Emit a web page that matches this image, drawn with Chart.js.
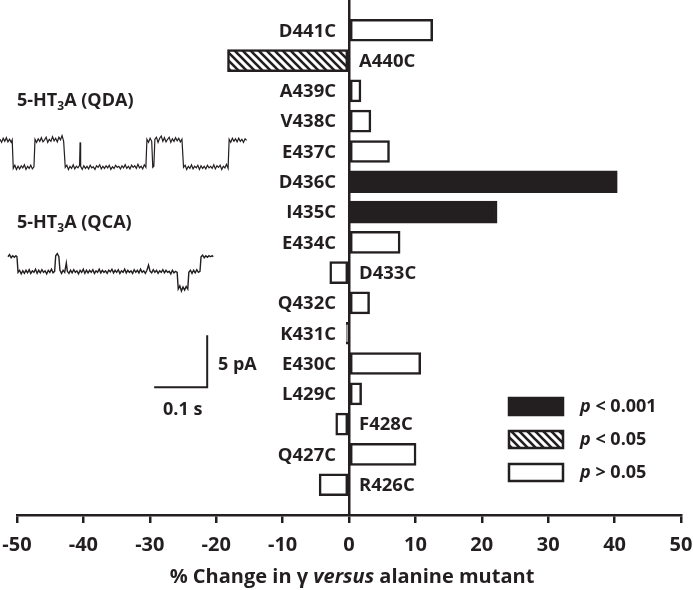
<!DOCTYPE html>
<html>
<head>
<meta charset="utf-8">
<script src="https://cdn.jsdelivr.net/npm/chart.js@4"></script>
<style>
  html, body { margin: 0; padding: 0; background: #fff; }
  #wrap { position: relative; width: 693px; height: 590px; font-family: "Open Sans", Lato, sans-serif; color: #231f20; }
  #main { position: absolute; left: 0; top: 0; }
  #traceBox { position: absolute; left: 0; top: 80px; width: 270px; height: 340px; }
  .lbl { position: absolute; font-weight: 700; font-size: 18px; line-height: 22px; white-space: nowrap; }
  .lbl sub { font-size: 12px; vertical-align: -4px; line-height: 0; }
</style>
</head>
<body>
<div id="wrap">
  <canvas id="main" width="693" height="590"></canvas>
  <div id="traceBox"><canvas id="traces"></canvas></div>
  <div class="lbl" style="left:17px; top:88px;">5-HT<sub>3</sub>A (QDA)</div>
  <div class="lbl" style="left:17px; top:210px;">5-HT<sub>3</sub>A (QCA)</div>
  <div class="lbl" style="left:218px; top:352px;">5 pA</div>
  <div class="lbl" style="left:163px; top:397px;">0.1 s</div>
</div>
<script>
// mutants, top to bottom
const categories = ['D441C', 'A440C', 'A439C', 'V438C', 'E437C', 'D436C', 'I435C', 'E434C',
                    'D433C', 'Q432C', 'K431C', 'E430C', 'L429C', 'F428C', 'Q427C', 'R426C'];
// % change in conductance vs alanine mutant
const changes = [12.6, -18.3, 1.8, 3.3, 6.1, 40.4, 22.3, 7.7,
                 -2.9, 3.1, -0.4, 10.8, 1.9, -2.0, 10.1, -4.5];
// significance group per mutant
const significance = ['ns', 'p05', 'ns', 'ns', 'ns', 'p001', 'p001', 'ns',
                      'ns', 'ns', 'ns', 'ns', 'ns', 'ns', 'ns', 'ns'];
const xTicks = [-50, -40, -30, -20, -10, 0, 10, 20, 30, 40, 50];

const legendKeys = ['p001', 'p05', 'ns'];
const legendTexts = [' < 0.001', ' < 0.05', ' > 0.05'];

// single-channel traces: [time ms, current pA]
const qdaTrace = [
    [0, 0.1], [3, -0.2], [6, 0.2], [9, -0.1], [12, 0.25], [15, -0.15], [18, 0.1], [21, -0.2], [23, 0.05],
    [25, -2.7], [28, -2.4], [31, -2.8], [34, -2.5], [37, -2.75], [40, -2.45], [43, -2.65], [46, -2.35],
    [49, -2.8], [52, -2.5], [55, -2.7], [58, -2.4], [61, -2.75], [64, -2.55],
    [66, 0.1], [69, -0.2], [72, 0.15], [75, -0.1], [78, 0.25], [81, -0.15], [84, 0.05], [87, 0.3],
    [90, -0.2], [93, 0.1], [96, -0.1], [99, 0.35], [102, -0.05], [105, 0.2], [108, -0.15], [111, 0.3],
    [114, 0.05], [117, 0.45], [120, -0.1],
    [123, -2.6], [126, -2.4], [129, -2.8], [132, -2.5], [135, -2.7], [138, -2.35], [141, -2.75], [144, -2.5],
    [147, -2.65], [150, -2.4], [151, -0.2], [152, -2.5], [155, -2.8], [158, -2.45], [161, -2.7], [164, -2.5],
    [167, -2.75], [170, -2.4], [173, -2.65], [176, -2.55], [179, -2.8], [182, -2.45], [185, -2.6],
    [188, -2.35], [191, -2.75], [194, -2.5], [197, -2.7], [200, -2.45], [203, -2.65], [206, -2.4],
    [209, -2.8], [212, -2.55], [215, -2.7], [218, -2.4], [221, -2.6], [224, -2.5], [227, -2.75],
    [230, -2.45], [233, -2.65], [236, -2.35], [239, -2.7], [242, -2.5], [245, -2.75], [248, -2.4],
    [251, -2.6], [254, -2.45], [257, -2.7], [260, -2.3], [263, -2.65], [266, -2.5], [269, -2.75],
    [272, -2.35], [275, -2.6],
    [277, 0.1], [280, -0.2], [283, 0.2], [286, -0.1],
    [288, -2.6], [290, -2.5],
    [292, 0.1], [295, 0.3], [298, -0.2], [301, 0.2], [304, 0.4], [307, -0.1], [310, 0.25], [313, -0.15],
    [316, 0.1], [319, 0.3], [322, -0.2], [325, 0.15], [328, -0.1], [331, 0.25], [334, -0.05], [337, 0.2],
    [340, -0.15], [343, 0.1],
    [346, -2.6], [349, -2.4], [352, -2.8], [355, -2.5], [358, -2.7], [361, -2.35], [364, -2.75], [367, -2.5],
    [370, -2.65], [373, -2.4], [376, -2.8], [379, -2.45], [382, -2.7], [385, -2.5], [388, -2.75],
    [391, -2.4], [394, -2.65], [397, -2.5], [400, -2.7], [403, -2.35], [406, -2.75], [409, -2.45],
    [412, -2.6], [415, -2.4], [418, -2.8], [421, -2.5], [424, -2.65], [427, -2.3], [430, -2.7],
    [432, 0.1], [435, -0.2], [438, 0.2], [441, -0.1], [444, 0.15], [447, -0.15], [450, 0.2], [453, -0.1],
    [456, 0.1], [459, -0.2], [462, 0.15], [465, 0]
];
const qcaTrace = [
    [15, -11.2], [18, -11.0], [21, -11.3], [24, -11.1], [27, -11.25], [30, -11.1], [32, -11.2],
    [34, -12.7], [37, -12.5], [40, -12.85], [43, -12.55], [46, -12.8], [49, -12.5], [52, -12.75],
    [55, -12.45], [58, -12.8], [61, -12.55], [64, -12.7], [67, -12.4], [70, -12.8], [73, -12.5],
    [76, -12.75], [79, -12.45], [82, -12.7], [85, -12.55], [88, -12.85], [91, -12.5], [94, -12.7],
    [97, -12.4], [100, -12.75], [103, -12.6],
    [105, -11.1], [108, -10.9], [111, -11.2], [113, -12.5], [116, -12.8], [119, -12.5], [122, -12.7],
    [125, -11.8], [127, -12.6], [130, -12.8], [133, -12.5], [136, -12.75], [139, -12.45], [142, -12.7],
    [145, -12.55], [148, -12.85], [151, -12.5], [154, -12.7], [157, -12.4], [160, -12.8], [163, -12.5],
    [166, -12.75], [169, -12.5], [172, -12.7], [175, -12.45], [178, -12.8], [181, -12.55], [184, -12.7],
    [187, -12.4], [190, -12.75], [193, -12.5], [196, -12.7], [199, -12.55], [202, -12.8], [205, -12.5],
    [208, -12.65], [211, -12.4], [214, -12.75], [217, -12.5], [220, -12.7], [223, -12.45], [226, -12.8],
    [229, -12.55], [232, -12.7], [235, -12.4], [238, -12.75], [241, -12.5], [244, -12.7], [247, -12.55],
    [250, -12.8], [253, -12.45], [256, -12.7], [259, -12.5], [262, -12.75], [265, -12.4], [268, -12.7],
    [271, -12.55], [274, -12.8], [277, -12.5], [280, -12.0], [283, -12.6], [286, -12.75], [289, -12.45],
    [292, -12.7], [295, -12.5], [298, -12.8], [301, -12.55], [304, -12.7], [307, -12.45], [310, -12.75],
    [313, -12.5], [316, -12.7], [319, -12.6], [322, -12.85], [325, -12.5], [328, -12.75], [331, -12.6],
    [334, -12.7],
    [336, -14.3], [339, -14.0], [342, -14.5], [345, -14.1], [348, -14.4], [351, -14.05], [354, -14.3],
    [356, -12.7], [359, -12.5], [362, -12.8], [365, -12.5], [368, -12.75], [371, -12.45], [374, -12.7],
    [377, -12.6],
    [379, -11.2], [382, -11.05], [385, -11.3], [388, -11.1], [391, -11.25], [394, -11.1], [397, -11.2],
    [400, -11.1], [402, -11.2]
];
// scale bar: 100 ms by 5 pA
const scaleBarTime = [290.6, 390.6, 390.6];
const scaleBarCurrent = [-23.75, -23.75, -18.75];

const INK = '#231f20';
const FONT = '"Open Sans", Lato, sans-serif';

function makeHatch() {
    const c = document.createElement('canvas');
    c.width = 8; c.height = 8;
    const g = c.getContext('2d');
    g.fillStyle = '#fff';
    g.fillRect(0, 0, 8, 8);
    g.strokeStyle = INK;
    g.lineWidth = 2.6;
    g.beginPath();
    g.moveTo(-2, -2); g.lineTo(10, 10);
    g.moveTo(-2, 6); g.lineTo(2, 10);
    g.moveTo(6, -2); g.lineTo(10, 2);
    g.stroke();
    return g.createPattern(c, 'repeat');
}
const hatch = makeHatch();
const fills = { p001: INK, p05: hatch, ns: '#fff' };

// mutant names beside each bar
const barLabels = {
    id: 'barLabels',
    afterDatasetsDraw(chart) {
        const ctx = chart.ctx;
        const x0 = chart.scales.x.getPixelForValue(0);
        const meta = chart.getDatasetMeta(0);
        ctx.save();
        ctx.font = 'bold 18.5px ' + FONT;
        ctx.fillStyle = INK;
        ctx.textBaseline = 'middle';
        meta.data.forEach((bar, i) => {
            if (changes[i] < -1) {
                ctx.textAlign = 'left';
                ctx.fillText(categories[i], x0 + 10, bar.y + 1);
            } else {
                ctx.textAlign = 'right';
                ctx.fillText(categories[i], x0 - 13, bar.y + 1);
            }
        });
        ctx.restore();
    }
};

// legend box + axis title with italic parts
const extras = {
    id: 'extras',
    afterDraw(chart) {
        const ctx = chart.ctx;
        const area = chart.chartArea;
        ctx.save();
        ctx.fillStyle = INK;
        ctx.textBaseline = 'middle';

        // axis title
        const parts = [['% Change in \u03b3 ', false], ['versus', true], [' alanine mutant', false]];
        let total = 0;
        parts.forEach(p => {
            ctx.font = (p[1] ? 'italic ' : '') + 'bold 20px ' + FONT;
            total += ctx.measureText(p[0]).width;
        });
        let tx = (area.left + area.right) / 2 + 3 - total / 2;
        parts.forEach(p => {
            ctx.font = (p[1] ? 'italic ' : '') + 'bold 20px ' + FONT;
            ctx.textAlign = 'left';
            ctx.fillText(p[0], tx, 577);
            tx += ctx.measureText(p[0]).width;
        });

        // legend
        legendKeys.forEach((k, i) => {
            const y = 398 + i * 33;
            ctx.fillStyle = fills[k];
            ctx.fillRect(509, y, 54, 17);
            ctx.strokeStyle = INK;
            ctx.lineWidth = 2.5;
            ctx.strokeRect(509, y, 54, 17);
            ctx.fillStyle = INK;
            ctx.font = 'italic bold 18px ' + FONT;
            ctx.fillText('p', 580, y + 9);
            const pw = ctx.measureText('p').width;
            ctx.font = 'bold 18px ' + FONT;
            ctx.fillText(legendTexts[i], 580 + pw, y + 9);
        });
        ctx.restore();
    }
};

new Chart(document.getElementById('main'), {
    type: 'bar',
    data: {
        datasets: [{
            data: categories.map((c, i) => ({ x: changes[i], y: i })),
            backgroundColor: significance.map(s => fills[s]),
            borderColor: INK,
            borderWidth: 2.5,
            borderSkipped: false,
            barThickness: 22
        }]
    },
    options: {
        indexAxis: 'y',
        responsive: false,
        animation: false,
        layout: { padding: { left: 17, right: 12, top: 0, bottom: 0 } },
        plugins: { legend: { display: false }, tooltip: { enabled: false } },
        scales: {
            x: {
                type: 'linear',
                min: -50,
                max: 50,
                afterBuildTicks: s => { s.ticks = xTicks.map(v => ({ value: v })); },
                afterFit: s => { s.height = 75; s.paddingLeft = 0; s.paddingRight = 0; },
                grid: {
                    drawOnChartArea: true,
                    color: c => (c.tick && c.tick.value === 0 ? INK : 'rgba(0,0,0,0)'),
                    lineWidth: 2.5,
                    tickColor: INK,
                    tickLength: 8,
                    tickWidth: 2.5
                },
                border: { display: true, color: INK, width: 2.5 },
                ticks: {
                    color: INK,
                    font: { family: FONT, size: 20, weight: 'bold' },
                    padding: 10,
                    maxRotation: 0
                }
            },
            y: {
                type: 'linear',
                min: -1,
                max: 16,
                reverse: true,
                offset: false,
                grid: { offset: false },
                display: false
            }
        }
    },
    plugins: [barLabels, extras]
});

// inset traces and scale bar
new Chart(document.getElementById('traces'), {
    type: 'line',
    data: {
        datasets: [
            { data: qdaTrace.map(p => ({ x: p[0], y: p[1] })), borderColor: INK, borderWidth: 1.2 },
            { data: qcaTrace.map(p => ({ x: p[0], y: p[1] })), borderColor: INK, borderWidth: 1.4 },
            { data: scaleBarTime.map((t, i) => ({ x: t, y: scaleBarCurrent[i] })), borderColor: INK, borderWidth: 2 }
        ]
    },
    options: {
        responsive: true,
        maintainAspectRatio: false,
        animation: false,
        elements: { point: { radius: 0 }, line: { tension: 0 } },
        layout: { padding: 0 },
        plugins: { legend: { display: false }, tooltip: { enabled: false } },
        scales: {
            x: { type: 'linear', min: 0, max: 509, display: false },
            y: { type: 'linear', min: -26.9, max: 5.8, display: false }
        }
    }
});
</script>
</body>
</html>
